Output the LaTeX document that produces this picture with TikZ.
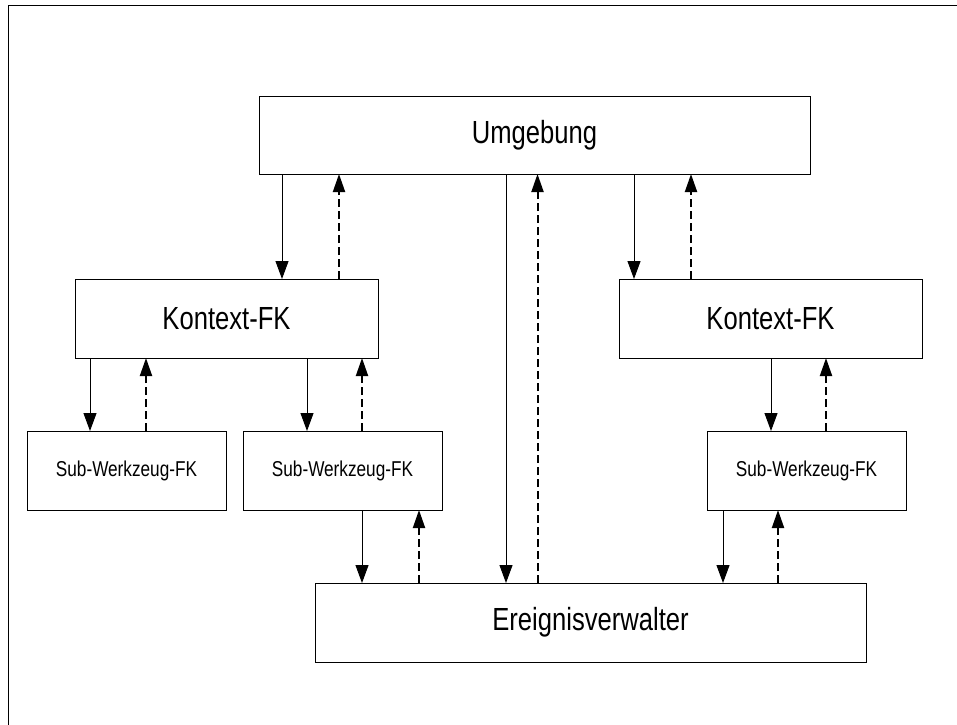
\documentclass[tikz,border=0pt]{standalone}
\usepackage{fontspec}
\setmainfont{Liberation Sans}[FakeStretch=0.8]
\usetikzlibrary{arrows.meta}
\begin{document}
\begin{tikzpicture}[x=1pt,y=-1pt,
  box/.style={draw,line width=1pt,rectangle,inner sep=0pt,outer sep=0pt,anchor=center},
  bigbox/.style={box,font=\fontsize{32}{38}\selectfont},
  smallbox/.style={box,font=\fontsize{21.5}{26}\selectfont},
  call/.style={line width=1pt,-{Triangle[length=18pt,width=13pt]}},
  reply/.style={line width=2pt,dash pattern=on 8pt off 4pt,-{Triangle[length=18pt,width=12pt]}}]
\useasboundingbox (0,0) rectangle (957,724);
% outer frame (left and top edges lie inside the page)
\draw[line width=1.4pt] (8.5,730) -- (8.5,5.5) -- (965,5.5);

% boxes
\node[bigbox,minimum width=551pt,minimum height=78pt] (U) at (534.5,135) {Umgebung};
\node[bigbox,minimum width=303pt,minimum height=79pt] (KL) at (226.5,318.5) {Kontext-FK};
\node[bigbox,minimum width=303pt,minimum height=79pt] (KR) at (770.5,318.5) {Kontext-FK};
\node[smallbox,minimum width=199pt,minimum height=79pt] (S1) at (126.5,470.5) {Sub-Werkzeug-FK};
\node[smallbox,minimum width=199pt,minimum height=79pt] (S2) at (342.5,470.5) {Sub-Werkzeug-FK};
\node[smallbox,minimum width=199pt,minimum height=79pt] (S3) at (806.5,470.5) {Sub-Werkzeug-FK};
\node[bigbox,minimum width=551pt,minimum height=79pt] (E) at (590.5,622.5) {Ereignisverwalter};

% columns of the connectors
\foreach \n/\x in {a1/282,a2/339,b1/506,b2/537.5,c1/634,c2/691,
                   d1/90,d2/146,e1/307,e2/362,f1/771,f2/826,
                   g1/362,g2/419,h1/723,h2/778}
  \coordinate (\n) at (\x,0);

% downward calls (solid) and upward replies (dashed)
\draw[call]  (U.south -| a1) -- (KL.north -| a1);
\draw[reply] (KL.north -| a2) -- (U.south -| a2);
\draw[call]  (U.south -| b1) -- (E.north -| b1);
\draw[reply] (E.north -| b2) -- (U.south -| b2);
\draw[call]  (U.south -| c1) -- (KR.north -| c1);
\draw[reply] (KR.north -| c2) -- (U.south -| c2);

\draw[call]  (KL.south -| d1) -- (S1.north -| d1);
\draw[reply] (S1.north -| d2) -- (KL.south -| d2);
\draw[call]  (KL.south -| e1) -- (S2.north -| e1);
\draw[reply] (S2.north -| e2) -- (KL.south -| e2);
\draw[call]  (KR.south -| f1) -- (S3.north -| f1);
\draw[reply] (S3.north -| f2) -- (KR.south -| f2);

\draw[call]  (S2.south -| g1) -- (E.north -| g1);
\draw[reply] (E.north -| g2) -- (S2.south -| g2);
\draw[call]  (S3.south -| h1) -- (E.north -| h1);
\draw[reply] (E.north -| h2) -- (S3.south -| h2);
\end{tikzpicture}
\end{document}
